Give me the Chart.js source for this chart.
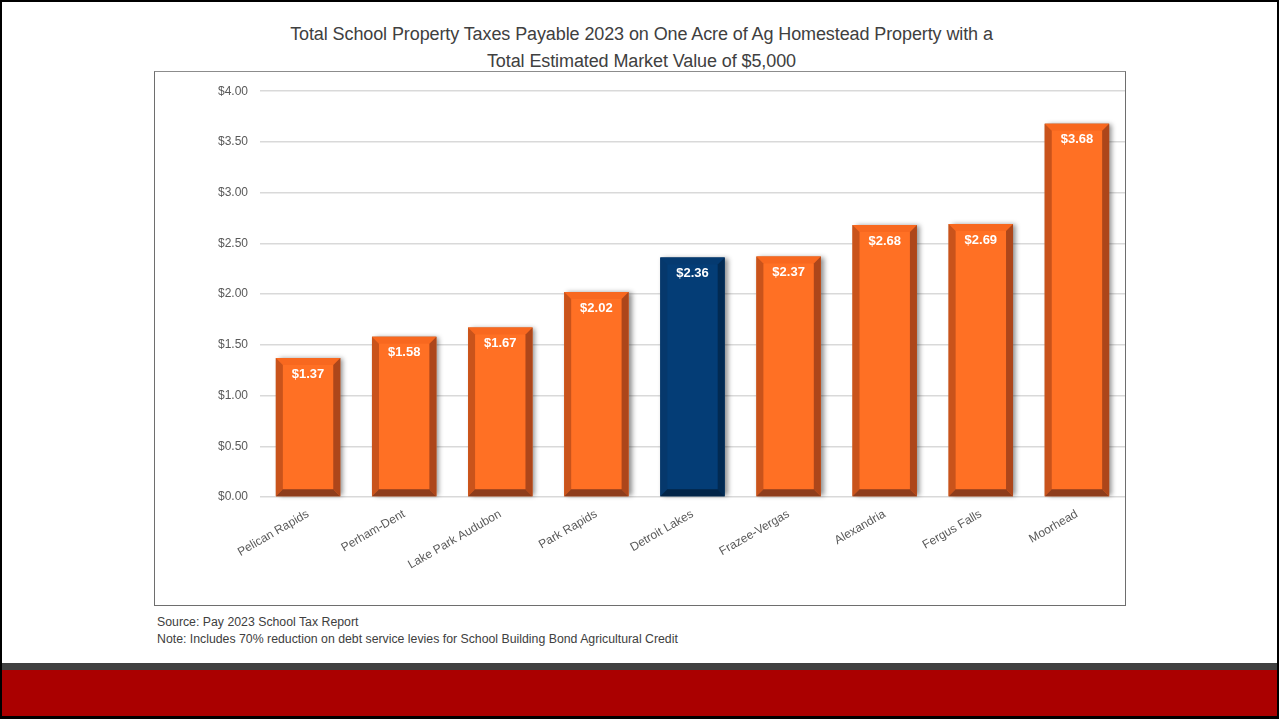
<!DOCTYPE html>
<html>
<head>
<meta charset="utf-8">
<script src="https://cdn.jsdelivr.net/npm/chart.js@4.4.0/dist/chart.umd.min.js"></script>
<style>
  body { margin: 0; background: #fff; font-family: "Liberation Sans", Arial, sans-serif; }
  #slide { position: relative; width: 1279px; height: 719px; box-sizing: border-box; border: 2px solid #000; border-bottom: none; overflow: hidden; }
  #title { position: absolute; left: 0; width: 1279px; top: 19px; text-align: center; font-size: 18px; letter-spacing: -0.1px; line-height: 27px; color: #404040; }
  #box { position: absolute; left: 152px; top: 69px; width: 970px; height: 533px; border: 1px solid #6e6e6e; border-top-color: #8c8c8c; }
  #chartWrap { position: absolute; left: 0; top: 0; width: 970px; height: 533px; }
  .note { position: absolute; left: 155px; font-size: 12.3px; color: #404040; }
  #band1 { position: absolute; left: 0; right: 0; top: 661px; height: 7px; background: #404040; }
  #band2 { position: absolute; left: 0; right: 0; top: 668px; height: 46px; background: #aa0000; }
  #band3 { position: absolute; left: 0; right: 0; top: 714px; height: 5px; background: #000; }
</style>
</head>
<body>
<div id="slide">
  <div id="title">Total School Property Taxes Payable 2023 on One Acre of Ag Homestead Property with a<br>Total Estimated Market Value of $5,000</div>
  <div id="box"><div id="chartWrap"><canvas id="chart"></canvas></div></div>
  <div class="note" style="top:613px">Source: Pay 2023 School Tax Report</div>
  <div class="note" style="top:630px">Note: Includes 70% reduction on debt service levies for School Building Bond Agricultural Credit</div>
  <div id="band1"></div>
  <div id="band2"></div>
  <div id="band3"></div>
</div>
<script>
// School districts and their pay-2023 tax on one acre of ag homestead ($5,000 EMV)
const districts = ['Pelican Rapids', 'Perham-Dent', 'Lake Park Audubon', 'Park Rapids', 'Detroit Lakes',
  'Frazee-Vergas', 'Alexandria', 'Fergus Falls', 'Moorhead'];
const taxPayable = [1.37, 1.58, 1.67, 2.02, 2.36, 2.37, 2.68, 2.69, 3.68];
const highlight = 'Detroit Lakes';
const yMin = 0, yMax = 4, yStep = 0.5;

const orange = { face: '#ff7024', top: '#f8681f', left: '#c9531b', right: '#ad461a', bottom: '#8e3d1c' };
const navy = { face: '#043d76', top: '#053a70', left: '#06386c', right: '#022a52', bottom: '#022447' };
const paletteFor = name => name === highlight ? navy : orange;

const money = v => '$' + v.toFixed(2);

// bevelled bars with a soft shadow, plus value labels inside the top
const bevelBars = {
  id: 'bevelBars',
  beforeDatasetsDraw(chart) {
    const ctx = chart.ctx;
    const meta = chart.getDatasetMeta(0);
    ctx.save();
    meta.data.forEach(bar => {
      const w = bar.width;
      ctx.shadowColor = 'rgba(0,0,0,0.45)';
      ctx.shadowBlur = 5;
      ctx.shadowOffsetX = 3;
      ctx.shadowOffsetY = 0;
      ctx.fillStyle = '#888';
      ctx.fillRect(bar.x - w / 2, bar.y, w, bar.base - bar.y);
    });
    ctx.restore();
  },
  afterDatasetsDraw(chart) {
    const ctx = chart.ctx;
    const meta = chart.getDatasetMeta(0);
    const b = 7;
    meta.data.forEach((bar, i) => {
      const pal = paletteFor(districts[i]);
      const L = bar.x - bar.width / 2, R = bar.x + bar.width / 2;
      const T = bar.y, B = bar.base;
      const poly = (pts, color) => {
        ctx.beginPath();
        ctx.moveTo(pts[0][0], pts[0][1]);
        pts.slice(1).forEach(p => ctx.lineTo(p[0], p[1]));
        ctx.closePath();
        ctx.fillStyle = color;
        ctx.fill();
      };
      poly([[L, T], [R, T], [R - b, T + b], [L + b, T + b]], pal.top);
      poly([[L, T], [L + b, T + b], [L + b, B - b], [L, B]], pal.left);
      poly([[R, T], [R, B], [R - b, B - b], [R - b, T + b]], pal.right);
      poly([[L, B], [R, B], [R - b, B - b], [L + b, B - b]], pal.bottom);

      ctx.save();
      ctx.fillStyle = '#fff';
      ctx.font = 'bold 13px "Liberation Sans Narrow", "Arial Narrow", Arial, sans-serif';
      ctx.textAlign = 'center';
      ctx.textBaseline = 'middle';
      ctx.fillText(money(taxPayable[i]), bar.x, T + 16);
      ctx.restore();
    });
  }
};

new Chart(document.getElementById('chart'), {
  type: 'bar',
  data: {
    labels: districts,
    datasets: [{
      data: taxPayable,
      backgroundColor: districts.map(d => paletteFor(d).face),
      borderWidth: 0,
      categoryPercentage: 1,
      barPercentage: 0.67
    }]
  },
  options: {
    responsive: true,
    maintainAspectRatio: false,
    animation: false,
    layout: { padding: { top: 17, right: 0, left: 0, bottom: 0 } },
    plugins: {
      legend: { display: false },
      tooltip: { enabled: false }
    },
    scales: {
      x: {
        grid: { display: false },
        border: { display: false },
        ticks: {
          color: '#595959',
          font: { family: '"Liberation Sans", Arial, sans-serif', size: 12 },
          minRotation: 30,
          maxRotation: 30,
          padding: 2,
          autoSkip: false
        },
        afterFit: s => { s.height = 108; }
      },
      y: {
        min: yMin,
        max: yMax,
        border: { display: false },
        grid: { color: '#d9d9d9', lineWidth: 1.5, drawTicks: false },
        ticks: {
          stepSize: yStep,
          color: '#595959',
          padding: 12,
          font: { family: '"Liberation Sans", Arial, sans-serif', size: 12 },
          callback: v => money(v)
        },
        afterFit: s => { s.width = 105; }
      }
    }
  },
  plugins: [bevelBars]
});
</script>
</body>
</html>
